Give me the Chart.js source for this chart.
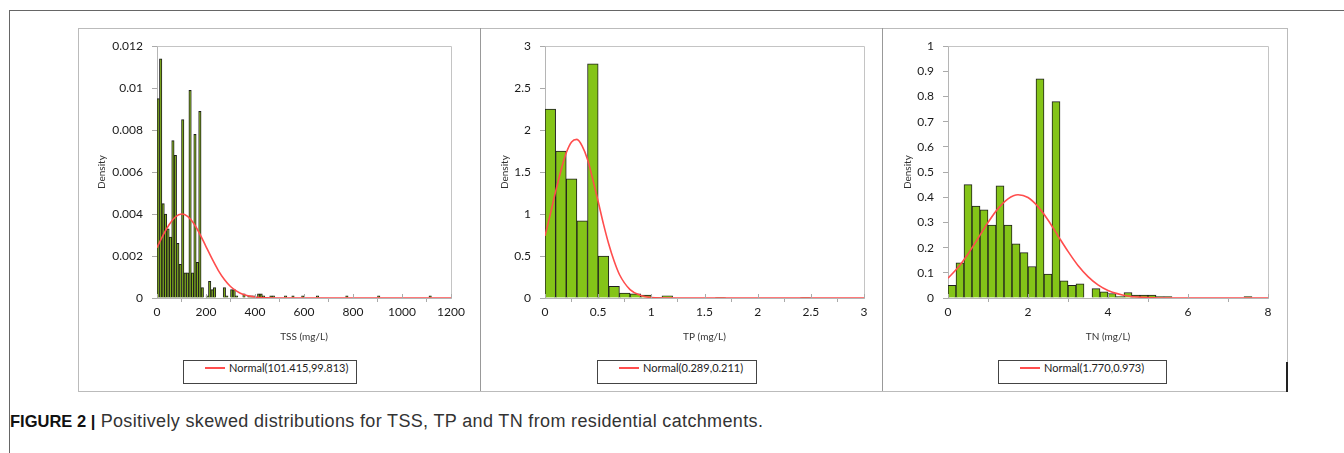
<!DOCTYPE html>
<html>
<head>
<meta charset="utf-8">
<script src="https://cdn.jsdelivr.net/npm/chart.js@4.4.1/dist/chart.umd.min.js"></script>
<style>
body{margin:0;background:#fff;}
#page{position:relative;width:1344px;height:453px;overflow:hidden;}
.ln{position:absolute;}
canvas{position:absolute;top:30px;}
.legend{position:absolute;top:360px;height:22px;line-height:22px;border:1px solid #444;background:#fff;box-sizing:content-box;
  font:11px Lato,sans-serif;color:#222;padding:0 0 0 21px;white-space:nowrap;}
.legend i{display:inline-block;width:20px;height:2px;background:#ff4d4d;vertical-align:middle;margin:0 4px 2px 0;}
#caption{position:absolute;left:10px;top:411px;font:18px "Liberation Sans",Arial,sans-serif;color:#333;white-space:nowrap;letter-spacing:0.35px;}
#caption b{color:#111;font-size:16.5px;letter-spacing:0;}
</style>
</head>
<body>
<div id="page">
  <div class="ln" style="left:9px;top:10px;width:1335px;height:1px;background:#666"></div>
  <div class="ln" style="left:9px;top:10px;width:1px;height:443px;background:#666"></div>
  <div class="ln" style="left:78px;top:28px;width:1208px;height:362px;border:1px solid #bbb"></div>
  <div class="ln" style="left:480px;top:28px;width:1px;height:363px;background:#999"></div>
  <div class="ln" style="left:882px;top:28px;width:1px;height:363px;background:#999"></div>
  <div class="ln" style="left:1286px;top:362px;width:2px;height:30px;background:#222"></div>

  <canvas id="c1" width="398" height="360" style="left:80px"></canvas>
  <canvas id="c2" width="402" height="360" style="left:481px"></canvas>
  <canvas id="c3" width="403" height="360" style="left:883px"></canvas>

  <div id="caption"><b>FIGURE 2 |</b> Positively skewed distributions for TSS, TP and TN from residential catchments.</div>
</div>
<script>
// TSS histogram (bin start, density), bin width 10 mg/L
const tssBinWidth = 10;
const tssBinStart = [0,10,20,30,40,50,60,70,80,90,100,110,120,130,140,150,160,170,
  180,200,210,220,230,270,280,300,310,320,350,370,380,390,410,420,430,460,470,520,550,590,650,770,900,1110];
const tssDensity = [0.0095,0.0114,0.0045,0.0040,0.0033,0.0029,0.0075,0.0068,0.0026,0.0016,0.0085,0.0012,0.0012,0.0099,0.0012,0.0078,0.0017,0.0089,
  0.0005,0.0001,0.0008,0.0004,0.0005,0.0005,0.0001,0.0004,0.0004,0.0001,0.0002,0.0001,0.0001,0.0001,0.0002,0.0002,0.0001,0.0001,0.0001,0.0001,0.0001,0.0001,0.0001,0.0001,0.0001,0.0001];
const tssCurveX = [0,25,50,75,100,125,150,175,200,225,250,275,300,325,350,400,450,500,1200];
const tssCurveY = [0.0024,0.0030,0.0035,0.00386,0.0040,0.00389,0.00355,0.00305,0.00245,0.00186,0.00132,0.00088,0.00055,0.00033,0.00018,0.00005,0.00001,0,0];
const tssXTicks = [0,200,400,600,800,1000,1200];
const tssYTicks = [0,0.002,0.004,0.006,0.008,0.01,0.012];

// TP histogram, bin width 0.1 mg/L
const tpBinWidth = 0.1;
const tpBinStart = [0,0.1,0.2,0.3,0.4,0.5,0.6,0.7,0.8,0.9,1.0,1.1,1.6,2.4];
const tpDensity = [2.25,1.75,1.42,0.92,2.79,0.50,0.14,0.06,0.05,0.035,0.005,0.025,0.005,0.005];
const tpCurveX = [0,0.05,0.1,0.15,0.2,0.25,0.3,0.35,0.4,0.45,0.5,0.55,0.6,0.65,0.7,0.8,0.9,1.0,1.2,3];
const tpCurveY = [0.74,1.0,1.27,1.52,1.73,1.86,1.89,1.81,1.65,1.41,1.15,0.88,0.64,0.44,0.28,0.10,0.03,0.006,0,0];
const tpXTicks = [0,0.5,1,1.5,2,2.5,3];
const tpYTicks = [0,0.5,1,1.5,2,2.5,3];

// TN histogram, bin width 0.2 mg/L
const tnBinWidth = 0.2;
const tnBinStart = [0,0.2,0.4,0.6,0.8,1.0,1.2,1.4,1.6,1.8,2.0,2.2,2.4,2.6,2.8,3.0,3.2,3.6,3.8,4.0,4.2,4.4,4.6,4.8,5.0,5.2,5.4,7.4];
const tnDensity = [0.05,0.14,0.45,0.365,0.35,0.29,0.445,0.29,0.215,0.18,0.125,0.87,0.095,0.78,0.068,0.05,0.056,0.037,0.025,0.018,0.006,0.022,0.012,0.012,0.012,0.006,0.006,0.006];
const tnCurveX = [0,0.25,0.5,0.75,1,1.25,1.5,1.75,2,2.25,2.5,2.75,3,3.25,3.5,3.75,4,4.5,5,5.5,8];
const tnCurveY = [0.079,0.121,0.175,0.237,0.30,0.355,0.394,0.41,0.399,0.363,0.31,0.247,0.185,0.129,0.085,0.052,0.030,0.008,0.002,0,0];
const tnXTicks = [0,2,4,6,8];
const tnYTicks = [0,0.1,0.2,0.3,0.4,0.5,0.6,0.7,0.8,0.9,1];

const normalLabels = ['Normal(101.415,99.813)', 'Normal(0.289,0.211)', 'Normal(1.770,0.973)'];
const axisTitles = ['TSS (mg/L)', 'TP (mg/L)', 'TN (mg/L)'];

// light grey box round the plot area + small inward x ticks
const frame = {
  id: 'frame',
  afterDraw(chart) {
    const a = chart.chartArea, c = chart.ctx, x = chart.scales.x;
    c.save();
    c.strokeStyle = '#c4c4c4';
    c.lineWidth = 1;
    c.beginPath();
    c.moveTo(Math.round(a.left) + 0.5, Math.round(a.top) + 0.5);
    c.lineTo(Math.round(a.right) + 0.5, Math.round(a.top) + 0.5);
    c.lineTo(Math.round(a.right) + 0.5, Math.round(a.bottom) + 0.5);
    c.stroke();
    c.strokeStyle = '#aaa';
    x.ticks.forEach(t => {
      const px = Math.round(x.getPixelForValue(t.value)) + 0.5;
      c.beginPath();
      c.moveTo(px, a.bottom - 4);
      c.lineTo(px, a.bottom);
      c.stroke();
    });
    c.restore();
  }
};

function fmt(v) { return String(Number(v.toFixed(4))); }

function makePanel(id, p) {
  const bars = p.starts.map((s, i) => ({x: s + p.width / 2, y: p.dens[i]}));
  const curve = p.cx.map((x, i) => ({x: x, y: p.cy[i]}));
  const chart = new Chart(document.getElementById(id), {
    type: 'bar',
    data: {
      datasets: [
        {type: 'line', label: p.label, data: curve, borderColor: '#ff4d4d', borderWidth: 1.6,
         pointRadius: 0, cubicInterpolationMode: 'monotone', fill: false, order: 0},
        {label: 'hist', data: bars, backgroundColor: p.fill, borderColor: '#1e1e1e', borderWidth: 1,
         barPercentage: 1, categoryPercentage: 1, order: 1}
      ]
    },
    options: {
      responsive: false,
      animation: false,
      layout: {padding: {left: 10, right: p.padRight, top: 15, bottom: 32}},
      plugins: {legend: {display: false}, tooltip: {enabled: false}},
      scales: {
        x: {
          type: 'linear', offset: false, min: p.xTicks[0], max: p.xTicks[p.xTicks.length - 1],
          afterBuildTicks: s => { s.ticks = p.xTicks.map(v => ({value: v})); },
          afterFit: s => { s.height = 60; },
          grid: {display: true, drawOnChartArea: false, tickLength: 4, color: '#aaa'},
          border: {color: '#b5b5b5'},
          ticks: {padding: 3, maxRotation: 0, color: '#1a1a1a', font: {family: 'Lato', size: 12}, callback: fmt},
          title: {display: true, text: p.title, color: '#333', font: {family: 'Lato', size: 10},
                  padding: {top: 0, bottom: 15}}
        },
        y: {
          min: p.yTicks[0], max: p.yTicks[p.yTicks.length - 1],
          afterBuildTicks: s => { s.ticks = p.yTicks.map(v => ({value: v})); },
          afterFit: s => { s.width = p.yWidth; },
          grid: {display: true, drawOnChartArea: false, tickLength: 5, color: '#aaa'},
          border: {color: '#b5b5b5'},
          ticks: {padding: 9, color: '#1a1a1a', font: {family: 'Lato', size: 12}, callback: fmt},
          title: {display: true, text: 'Density', color: '#333', font: {family: 'Lato', size: 10},
                  padding: {top: p.titleGap, bottom: 0}}
        }
      }
    },
    plugins: [frame]
  });
  // legend box below the axis title, label taken from the curve dataset
  const lg = document.createElement('div');
  lg.className = 'legend';
  lg.style.left = p.legendLeft + 'px';
  lg.style.width = (p.legendWidth - 23) + 'px';
  lg.innerHTML = '<i></i>';
  lg.appendChild(document.createTextNode(chart.data.datasets[0].label));
  document.getElementById('page').appendChild(lg);
}

makePanel('c1', {starts: tssBinStart, dens: tssDensity, width: tssBinWidth, cx: tssCurveX, cy: tssCurveY,
  xTicks: tssXTicks, yTicks: tssYTicks, label: normalLabels[0], title: axisTitles[0], fill: '#7fae17',
  padRight: 27, yWidth: 67, titleGap: 6, legendLeft: 183, legendWidth: 174});
makePanel('c2', {starts: tpBinStart, dens: tpDensity, width: tpBinWidth, cx: tpCurveX, cy: tpCurveY,
  xTicks: tpXTicks, yTicks: tpYTicks, label: normalLabels[1], title: axisTitles[1], fill: '#84c418',
  padRight: 19, yWidth: 54, titleGap: 8, legendLeft: 597, legendWidth: 160});
makePanel('c3', {starts: tnBinStart, dens: tnDensity, width: tnBinWidth, cx: tnCurveX, cy: tnCurveY,
  xTicks: tnXTicks, yTicks: tnYTicks, label: normalLabels[2], title: axisTitles[2], fill: '#84c418',
  padRight: 18, yWidth: 55, titleGap: 9, legendLeft: 998, legendWidth: 169});
</script>
</body>
</html>
